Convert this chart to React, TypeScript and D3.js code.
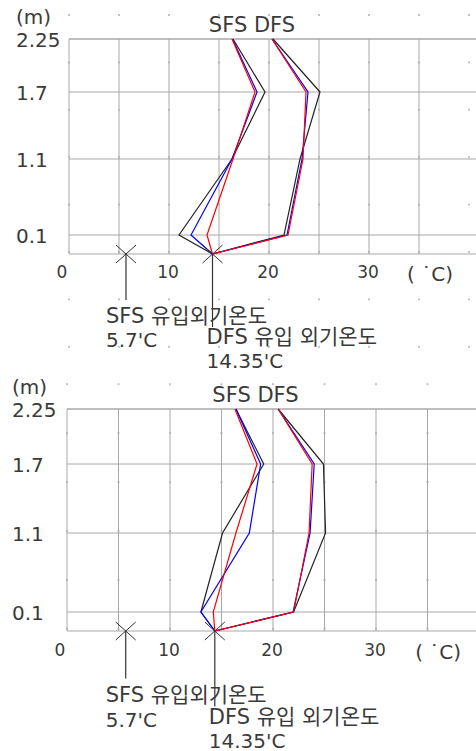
import React from 'react';
import * as d3 from 'd3';

// ---- data ----
const heights = [2.25, 1.7, 1.1, 0.1, 0];
const yTicks = [2.25, 1.7, 1.1, 0.1];
const yTickLabels = ['2.25', '1.7', '1.1', '0.1'];
const xTicks = [0, 10, 20, 30];
const xGrid = [0, 5, 10, 15, 20, 25, 30, 35];
const sfsInlet = 5.7;
const dfsInlet = 14.35;
const seriesColors = ['#222222', '#0000ff', '#ff0000'];

// Chart 1 (top)
const top_sfs_black = [16.4, 19.6, 16.3, 11.0, 14.35];
const top_sfs_blue = [16.35, 18.8, 16.3, 12.2, 14.35];
const top_sfs_red = [16.3, 18.6, 16.4, 13.8, 14.35];
const top_dfs_black = [20.4, 25.1, 23.1, 21.5, 14.35];
const top_dfs_blue = [20.3, 23.9, 23.3, 21.8, 14.35];
const top_dfs_red = [20.3, 23.7, 23.4, 21.9, 14.35];

// Chart 2 (bottom)
const bot_sfs_black = [16.4, 19.1, 15.1, 13.0, 14.35];
const bot_sfs_blue = [16.4, 18.8, 17.7, 13.0, 14.35];
const bot_sfs_red = [16.3, 18.45, 16.4, 14.2, 14.35];
const bot_dfs_black = [20.5, 24.9, 25.1, 22.0, 14.35];
const bot_dfs_blue = [20.5, 24.0, 23.6, 21.95, 14.35];
const bot_dfs_red = [20.5, 23.8, 23.5, 22.0, 14.35];

const FONT = "'DejaVu Sans', 'Noto Sans CJK KR', sans-serif";
const TXT = '#3a3a3a';
const W = 476;
const H = 751;

type ChartProps = {
  series: number[][];
  xr: [number, number]; // pixel for 0 and 35
  yr: number[]; // pixels for 0, 0.1, 1.1, 1.7, 2.25
  labelX: number;
  dotRows: number;
};

function Chart({ series, xr, yr, labelX, dotRows }: ChartProps) {
  const x = d3.scaleLinear().domain([0, 35]).range(xr);
  const y = d3.scaleLinear().domain([0, 0.1, 1.1, 1.7, 2.25]).range(yr);
  const k = (yr[0] - yr[4]) / 215;
  const y0 = y(0);
  const yT = y(2.25);
  const line = d3
    .line<number>()
    .x((d) => x(d))
    .y((_d, i) => y(heights[i]));

  const dotsX = d3.range(0, 9).map((i) => x(5 * i));
  const dotsY = d3.range(0, dotRows).map((j) => yT - 24 * k + 47.4 * k * j);

  const cross = (cx: number) => (
    <g stroke="#333" strokeWidth={1}>
      <line x1={cx - 10} y1={y0 - 9} x2={cx + 10} y2={y0 + 9} />
      <line x1={cx - 10} y1={y0 + 9} x2={cx + 10} y2={y0 - 9} />
    </g>
  );

  const xs = x(sfsInlet);
  const xd = x(dfsInlet);

  return (
    <g>
      {/* dot grid */}
      {dotsY.map((dy, j) =>
        dotsX.map((dx, i) => (
          <rect key={`d${i}-${j}`} x={dx - 1} y={dy - 1} width={2} height={2} fill="#c4c4c4" />
        ))
      )}
      {/* grid */}
      {xGrid.map((g) => (
        <line key={`vx${g}`} x1={x(g)} x2={x(g)} y1={yT} y2={y0} stroke="#a8a8a8" strokeWidth={1} />
      ))}
      {[...yTicks, 0].map((t) => (
        <line key={`hy${t}`} x1={x(0)} x2={W} y1={y(t)} y2={y(t)} stroke="#a8a8a8" strokeWidth={t === 2.25 ? 1.4 : 1} />
      ))}
      {/* series */}
      {series.map((s, i) => (
        <path key={`s${i}`} d={line(s) || ''} fill="none" stroke={seriesColors[i % 3]} strokeWidth={1.2} />
      ))}
      {/* markers */}
      {cross(xs)}
      {cross(xd)}
      {/* y labels */}
      <text x={labelX} y={yT - 15 * k} fontFamily={FONT} fontSize={20} fill={TXT}>(m)</text>
      {yTicks.map((t, i) => (
        <text key={`yl${t}`} x={labelX} y={y(t) + 7.5} fontFamily={FONT} fontSize={20} fill={TXT}>
          {yTickLabels[i]}
        </text>
      ))}
      {/* x labels */}
      {xTicks.map((t) => (
        <text key={`xl${t}`} x={x(t) - (t === 0 ? 7 : 1)} y={y0 + 24 * k} textAnchor="middle" fontFamily={FONT} fontSize={17} fill={TXT}>
          {String(t)}
        </text>
      ))}
      <text x={x(33.8)} y={y0 + 27 * k} fontFamily={FONT} fontSize={20} fill={TXT} xmlSpace="preserve">( ˙C)</text>
      {/* title */}
      <text x={x(18.3)} y={yT - 7} textAnchor="middle" fontFamily={FONT} fontSize={21} fill={TXT}>SFS DFS</text>
      {/* annotations */}
      <line x1={xs} x2={xs} y1={y0} y2={y0 + 46 * k} stroke="#333" strokeWidth={1.2} />
      <line x1={xd} x2={xd} y1={y0} y2={y0 + 73 * k} stroke="#333" strokeWidth={1.2} />
      <text x={xs - 20} y={y0 + 69 * k} fontFamily={FONT} fontSize={21} fill={TXT}>SFS 유입외기온도</text>
      <text x={xs - 20} y={y0 + 93 * k} fontFamily={FONT} fontSize={20} fill={TXT}>5.7'C</text>
      <text x={xd - 6} y={y0 + 90 * k} fontFamily={FONT} fontSize={21} fill={TXT}>DFS 유입 외기온도</text>
      <text x={xd - 6} y={Math.min(y0 + 114 * k, H - 3.5)} fontFamily={FONT} fontSize={20} fill={TXT}>14.35'C</text>
    </g>
  );
}

export default function App() {
  return (
    <svg
      width={W}
      height={H}
      style={{ position: 'absolute', left: 0, top: 0, background: '#fff' }}
    >
      <rect width={W} height={H} fill="#fff" />
      <Chart
        series={[top_sfs_black, top_sfs_blue, top_sfs_red, top_dfs_black, top_dfs_blue, top_dfs_red]}
        xr={[69, 419]}
        yr={[254, 235, 159, 92, 39]}
        labelX={16}
        dotRows={8}
      />
      <Chart
        series={[bot_sfs_black, bot_sfs_blue, bot_sfs_red, bot_dfs_black, bot_dfs_blue, bot_dfs_red]}
        xr={[67, 427.5]}
        yr={[631, 612, 533, 464, 409]}
        labelX={12}
        dotRows={6}
      />
    </svg>
  );
}
